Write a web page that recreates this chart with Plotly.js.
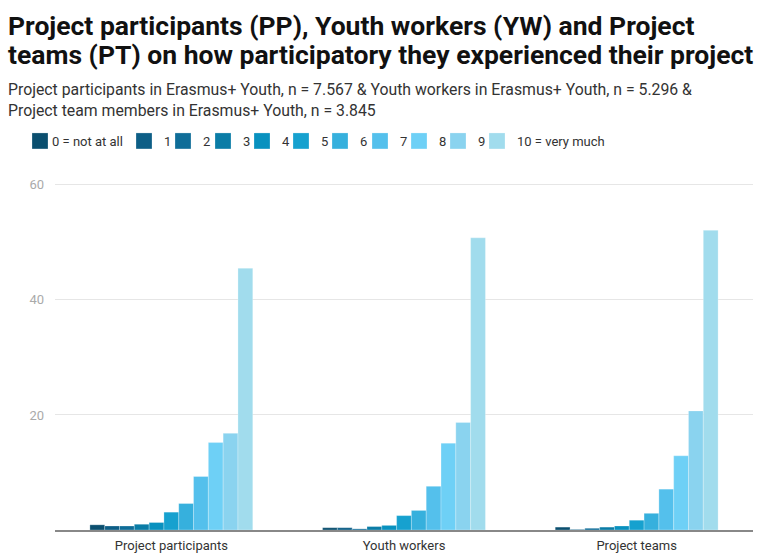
<!DOCTYPE html>
<html><head><meta charset="utf-8">
<script src="https://cdn.plot.ly/plotly-3.0.1.min.js"></script>
<style>body{margin:0;background:#fff}#chart{width:769px;height:557px}</style>
</head><body><div id="chart"></div>
<script>
const categories = ["Project participants", "Youth workers", "Project teams"];
const seriesNames = ["0 = not at all","1","2","3","4","5","6","7","8","9","10 = very much"];
const s0 = [0.9, 0.4, 0.5];
const s1 = [0.7, 0.4, 0.1];
const s2 = [0.7, 0.2, 0.3];
const s3 = [1.0, 0.6, 0.5];
const s4 = [1.3, 0.8, 0.7];
const s5 = [3.1, 2.5, 1.7];
const s6 = [4.6, 3.4, 2.9];
const s7 = [9.3, 7.6, 7.1];
const s8 = [15.2, 15.1, 12.9];
const s9 = [16.8, 18.7, 20.7];
const s10 = [45.5, 50.8, 52.1];
const seriesValues = [s0,s1,s2,s3,s4,s5,s6,s7,s8,s9,s10];
const colors = ["#0b4f6f","#0d5e86","#0f6d98","#0a7ca6","#0891bf","#16a1cf","#36b0dd","#54c0ec","#6ed0f6","#8ad3ef","#a1dced"];
const yTicks = [20, 40, 60];

// page geometry
const W = 769, H = 557, ML = 55, MR = 16, MT = 182, MB = 27;
const PW = W - ML - MR, PH = H - MT - MB;
const px2x = p => (p - ML) / PW;
const py2y = p => (H - MB - p) / PH;

// legend swatch centres (px)
const legendCenters = [37, 141, 180, 220, 259, 298, 337, 377, 416, 455, 494];
const legendKey = i => i === 0 ? 'legend' : 'legend' + (i + 1);

const data = seriesValues.map((v, i) => ({
  type: 'bar', name: seriesNames[i], x: categories, y: v,
  legend: legendKey(i),
  marker: {color: colors[i], line: {color: 'rgba(255,255,255,0.5)', width: 0.5}},
  hovertemplate: '%{y}<extra>' + seriesNames[i] + '</extra>'
}));

const layout = {
  width: W, height: H,
  margin: {l: ML, r: MR, t: MT, b: MB},
  paper_bgcolor: '#fff', plot_bgcolor: '#fff',
  font: {family: 'Roboto, sans-serif', color: '#333', size: 13},
  barmode: 'group', bargap: 0.3, bargroupgap: 0,
  showlegend: true,
  xaxis: {tickfont: {size: 13, color: '#333'}, showline: true, linecolor: '#888', linewidth: 1.5, ticks: '', showgrid: false, ticklabelstandoff: 3},
  yaxis: {range: [0, 60.5], tickvals: yTicks, ticktext: yTicks.map(String), tickfont: {size: 13, color: '#aaa'},
    gridcolor: '#e6e6e6', gridwidth: 1, zeroline: false, ticks: '', ticklabelstandoff: 10},
  annotations: [
    {xref: 'paper', yref: 'paper', x: px2x(6), y: py2y(25), xanchor: 'left', yanchor: 'middle', align: 'left', showarrow: false,
     text: '<b>Project participants (PP), Youth workers (YW) and Project</b>',
     font: {family: 'Roboto, sans-serif', size: 26.5, color: '#111'}},
    {xref: 'paper', yref: 'paper', x: px2x(6), y: py2y(55), xanchor: 'left', yanchor: 'middle', align: 'left', showarrow: false,
     text: '<b>teams (PT) on how participatory they experienced their project</b>',
     font: {family: 'Roboto, sans-serif', size: 26.5, color: '#111'}},
    {xref: 'paper', yref: 'paper', x: px2x(6), y: py2y(89), xanchor: 'left', yanchor: 'middle', align: 'left', showarrow: false,
     text: 'Project participants in Erasmus+ Youth, n = 7.567 &amp; Youth workers in Erasmus+ Youth, n = 5.296 &amp;',
     font: {family: 'Roboto, sans-serif', size: 15.8, color: '#333'}},
    {xref: 'paper', yref: 'paper', x: px2x(6), y: py2y(111), xanchor: 'left', yanchor: 'middle', align: 'left', showarrow: false,
     text: 'Project team members in Erasmus+ Youth, n = 3.845',
     font: {family: 'Roboto, sans-serif', size: 15.8, color: '#333'}}
  ]
};
legendCenters.forEach((c, i) => {
  layout[legendKey(i)] = {orientation: 'h', x: px2x(c - 17), xanchor: 'left', y: py2y(141), yanchor: 'middle',
    font: {family: 'Roboto, sans-serif', size: 13, color: '#333'}, itemwidth: 30, bgcolor: 'rgba(0,0,0,0)'};
});

// larger square swatches with a tight label gap, as in the reference
function tweakLegend(gd) {
  gd.querySelectorAll('.legendpoints path').forEach(p => p.setAttribute('d', 'M8,8H-8V-8H8Z'));
  gd.querySelectorAll('text.legendtext').forEach(t => {
    t.setAttribute('x', '32');
    t.querySelectorAll('tspan[x]').forEach(s => s.setAttribute('x', '32'));
  });
}
const gdEl = document.getElementById('chart');
Plotly.newPlot(gdEl, data, layout, {displayModeBar: false, responsive: false}).then(gd => {
  tweakLegend(gd);
  gd.on('plotly_afterplot', () => tweakLegend(gd));
  setTimeout(() => tweakLegend(gd), 50);
  setTimeout(() => tweakLegend(gd), 300);
});
</script></body></html>
